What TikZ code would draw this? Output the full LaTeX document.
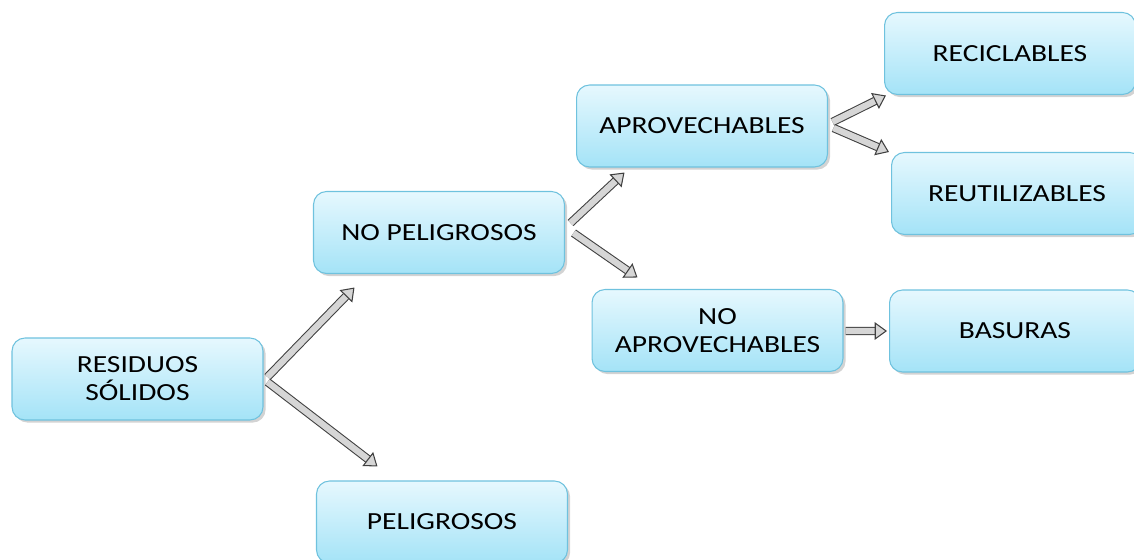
\documentclass[tikz,border=0pt]{standalone}
\usepackage{fontspec}
\newfontfamily\boxfont{Carlito}[FakeStretch=1.2]
\usetikzlibrary{arrows.meta,shadows}

\definecolor{boxtop}{HTML}{E6F8FE}
\definecolor{boxbottom}{HTML}{A4E3F7}
\definecolor{boxline}{HTML}{6FC2DE}
\definecolor{arrowfill}{HTML}{D6D6D6}

\begin{document}
\begin{tikzpicture}[x=0.02cm, y=-0.02cm]
    \tikzstyle{box}=[rectangle, rounded corners=0.26cm, draw=boxline, line width=0.6pt,
        top color=boxtop, bottom color=boxbottom, minimum width=5.02cm, minimum height=1.64cm,
        align=center, font=\boxfont\fontsize{14}{16}\selectfont,
        drop shadow={shadow xshift=1.5pt, shadow yshift=-1.5pt, opacity=0.35}]
    \tikzstyle{fat}=[draw=black!75, line width=0.6pt, double=arrowfill, double distance=3.6pt,
        -{Triangle[length=7pt, width=10pt, open, fill=arrowfill]}]

    \useasboundingbox (0,0) rectangle (1134,560);

    % Draw the first level
    \node[box] (rs) at (137.5,379) {RESIDUOS\\SÓLIDOS};

    % Draw the second level
    \node[box] (np) at (439,232.5) {NO PELIGROSOS};
    \node[box] (pel) at (442,522) {PELIGROSOS};

    % Draw the third level
    \node[box] (apr) at (702,126) {APROVECHABLES};
    \node[box] (noapr) at (717.5,330.5) {NO\\APROVECHABLES};

    % Draw the last level
    \node[box] (rec) at (1010,53.5) {RECICLABLES};
    \node[box] (reu) at (1017,193.5) {REUTILIZABLES};
    \node[box] (bas) at (1015,331) {BASURAS};

    % Connect the levels
    \draw[fat] ([shift={(4,-2)}]rs.east) -- ([shift={(41.5,13.5)}]np.south west);
    \draw[fat] ([shift={(4,3)}]rs.east) -- ([shift={(61.5,-14)}]pel.north west);
    \draw[fat] ([shift={(5.5,-9.5)}]np.east) -- ([shift={(48.5,5)}]apr.south west);
    \draw[fat] ([shift={(8.5,0.5)}]np.east) -- ([shift={(46,-11.5)}]noapr.north west);
    \draw[fat] ([shift={(4.5,-4)}]apr.east) -- ([shift={(2,0.5)}]rec.south west);
    \draw[fat] ([shift={(5.5,2)}]apr.east) -- ([shift={(-2,0)}]reu.north west);
    \draw[fat] ([shift={(2,0.5)}]noapr.east) -- ([shift={(-2,0)}]bas.west);
\end{tikzpicture}
\end{document}
